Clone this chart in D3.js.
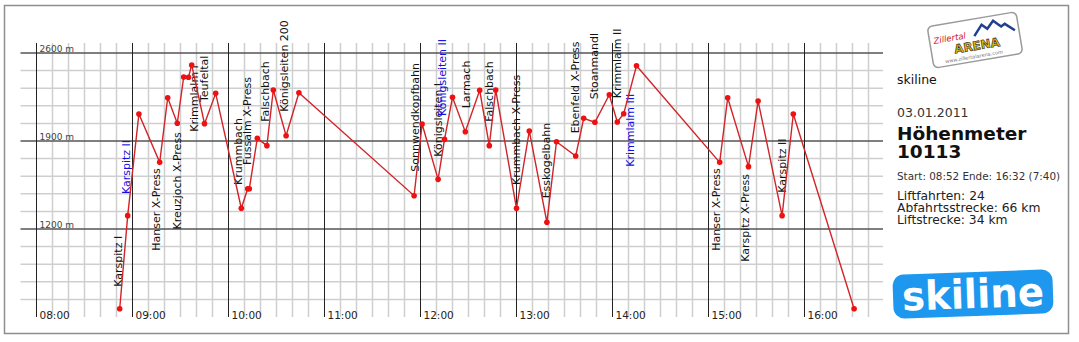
<!DOCTYPE html>
<html>
<head>
<meta charset="utf-8">
<title>skiline Höhenmeter 03.01.2011</title>
<style>
  body { margin: 0; background: #fff; }
  svg { display: block; font-family: "DejaVu Sans", Verdana, sans-serif; }
</style>
</head>
<body>
<svg width="1079" height="342"></svg>
<script src="https://d3js.org/d3.v7.min.js"></script>
<script>

// run points: time of day and altitude (m)
var runTimes = ["08:52","08:57","09:04","09:17","09:22","09:28","09:32","09:35","09:37","09:45",
                "09:52","10:08","10:12","10:13","10:18","10:24","10:28","10:36","10:44","11:56",
                "12:01","12:11","12:15","12:20","12:28","12:37","12:43","12:47","13:00","13:08",
                "13:19","13:25","13:37","13:42","13:49","13:58","14:03","14:07","14:15","15:07",
                "15:12","15:25","15:31","15:46","15:53","16:31"];
var runHeights = [566,1306,2115,1730,2244,2041,2409,2407,2505,2038,
                  2279,1365,1520,1520,1921,1863,2306,1942,2284,1465,
                  2035,1595,1913,2248,1974,2303,1863,2306,1365,1980,
                  1253,1894,1781,2080,2049,2268,2051,2117,2499,1730,
                  2244,1696,2218,1306,2115,566];

// lift labels
var liftNames = ["Karspitz I","Karspitz II","Hanser X-Press","Kreuzjoch X-Press","Krimmlalm I","Teufeltal",
                 "Krummbach","Fussalm X-Press","Falschbach","Königsleiten 200","Sonnwendkopfbahn","Königsleiten I",
                 "Königsleiten II","Larmach","Falschbach","Krummbach X-Press","Esskogelbahn","Ebenfeld X-Press",
                 "Stoanmandl","Krimmlalm II","Krimmlalm III","Hanser X-Press","Karspitz X-Press","Karspitz II"];
var liftTimes = ["08:51","08:56","09:15","09:28","09:39","09:45",
                 "10:06","10:12","10:23","10:35","11:57","12:11",
                 "12:14","12:29","12:43","13:00","13:19","13:37",
                 "13:49","14:03","14:11","15:05","15:23","15:46"];
var liftLabelHeights = [741,1478,1027,1197,1974,2210,
                        1550,1709,2053,2133,1656,1775,
                        2099,2160,2053,1550,1444,1961,
                        2232,2240,1695,1027,940,1489];
// lifts taken straight after another one (shown in blue)
var liftChained = [false,true,false,false,false,false,
                   false,false,false,false,false,false,
                   true,false,false,false,false,false,
                   false,false,true,false,false,false];

var hourTicks = ["08:00","09:00","10:00","11:00","12:00","13:00","14:00","15:00","16:00"];
var heightTicks = [1200, 1900, 2600];

var titleLines = ["Höhenmeter", "10113"];
var infoLines = ["Liftfahrten: 24", "Abfahrtsstrecke: 66 km", "Liftstrecke: 34 km"];

var parse = d3.timeParse("%H:%M");
var svg = d3.select("svg");

var x = d3.scaleTime()
    .domain([parse("07:50"), parse("16:50")])
    .range([20.5, 884.5]);
var y = d3.scaleLinear()
    .domain([500, 2600])
    .range([317, 53]);

// frame
svg.append("rect")
    .attr("x", 4.5).attr("y", 5.5)
    .attr("width", 1064).attr("height", 328)
    .attr("fill", "#fff")
    .attr("stroke", "#8e8e8e")
    .attr("stroke-width", 1.5);

var grid = svg.append("g");

var minorX = d3.timeMinute.every(10).range(parse("08:00"), parse("16:41"));
grid.selectAll(".vminor")
  .data(minorX.filter(function(d) { return d.getMinutes() != 0; }))
  .enter().append("line")
    .attr("x1", function(d) { return x(d); })
    .attr("x2", function(d) { return x(d); })
    .attr("y1", y(2680)).attr("y2", y(500))
    .attr("stroke", "#cfcfcf").attr("stroke-width", 1.5);

var minorY = d3.range(640, 2601, 140);
grid.selectAll(".hminor")
  .data(minorY.filter(function(d) { return heightTicks.indexOf(d) < 0; }))
  .enter().append("line")
    .attr("x1", x.range()[0]).attr("x2", x.range()[1] - 1.5)
    .attr("y1", function(d) { return y(d); })
    .attr("y2", function(d) { return y(d); })
    .attr("stroke", "#cfcfcf").attr("stroke-width", 1.5);

grid.selectAll(".hmajor")
  .data(heightTicks)
  .enter().append("line")
    .attr("x1", x.range()[0]).attr("x2", x.range()[1] - 1.5)
    .attr("y1", function(d) { return y(d); })
    .attr("y2", function(d) { return y(d); })
    .attr("stroke", "#555").attr("stroke-width", 1.5);

grid.selectAll(".vmajor")
  .data(hourTicks.map(parse))
  .enter().append("line")
    .attr("x1", function(d) { return x(d); })
    .attr("x2", function(d) { return x(d); })
    .attr("y1", y(2680)).attr("y2", y(500))
    .attr("stroke", "#222").attr("stroke-width", 1);

grid.selectAll(".hlabel")
  .data(heightTicks)
  .enter().append("text")
    .attr("x", x(parse("08:00")) + 3)
    .attr("y", function(d) { return y(d) - 1.5; })
    .attr("font-size", 9)
    .attr("fill", "#444")
    .text(function(d) { return d + " m"; });

grid.selectAll(".tlabel")
  .data(hourTicks)
  .enter().append("text")
    .attr("x", function(d) { return x(parse(d)) + 3; })
    .attr("y", 319)
    .attr("font-size", 10.5)
    .attr("fill", "#222")
    .text(function(d) { return d; });

// lift labels
svg.append("g").selectAll("text")
  .data(liftNames.map(function(n, i) {
      return { name: n, t: parse(liftTimes[i]), h: liftLabelHeights[i], chained: liftChained[i] };
    }))
  .enter().append("text")
    .attr("transform", function(d) { return "translate(" + (x(d.t) + 3.5) + "," + y(d.h) + ") rotate(-90)"; })
    .attr("font-size", 11)
    .attr("fill", function(d) { return d.chained ? "#1010e0" : "#111"; })
    .text(function(d) { return d.name; });

// altitude profile
var points = runTimes.map(function(t, i) { return { t: parse(t), h: runHeights[i] }; });

var line = d3.line()
    .x(function(d) { return x(d.t); })
    .y(function(d) { return y(d.h); });

svg.append("path")
    .datum(points)
    .attr("fill", "none")
    .attr("stroke", "#d22328")
    .attr("stroke-width", 1.4)
    .attr("d", line);

svg.append("g").selectAll("circle")
  .data(points)
  .enter().append("circle")
    .attr("cx", function(d) { return x(d.t); })
    .attr("cy", function(d) { return y(d.h); })
    .attr("r", 2.8)
    .attr("fill", "#ee1111");

// right panel
var panel = svg.append("g").attr("fill", "#111");

var card = svg.append("g").attr("transform", "translate(975,40) rotate(-9.6)");
card.append("rect")
    .attr("x", -45).attr("y", -21).attr("width", 90).attr("height", 42).attr("rx", 5)
    .attr("fill", "#fff").attr("stroke", "#9a9a9a").attr("stroke-width", 1.5);
card.append("path")
    .attr("d", "M0,-4 L9,-14 L14,-9 L21,-16 L28,-9 L32,-11 L41,-3")
    .attr("fill", "none").attr("stroke", "#1f3f8f").attr("stroke-width", 2.5);
card.append("text")
    .attr("x", -41).attr("y", -3)
    .attr("font-size", 8.5).attr("font-style", "italic")
    .attr("fill", "#d0142c")
    .text("Zillertal");
card.append("text")
    .attr("x", -22).attr("y", 10)
    .attr("font-size", 12).attr("font-weight", "bold")
    .attr("fill", "#e8b90c").attr("stroke", "#222").attr("stroke-width", 0.6)
    .text("ARENA");
card.append("text")
    .attr("x", -33).attr("y", 18)
    .attr("font-size", 5).attr("fill", "#777")
    .text("www.zillertalarena.com");

panel.append("text").attr("x", 897).attr("y", 84).attr("font-size", 12.5).text("skiline");
panel.append("text").attr("x", 897).attr("y", 117).attr("font-size", 12.5).attr("fill", "#333").text("03.01.2011");

// bold total, two lines in one text block
panel.append("text")
    .attr("font-size", 18.5).attr("font-weight", "bold")
  .selectAll("tspan")
  .data(titleLines)
  .enter().append("tspan")
    .attr("x", 897)
    .attr("y", function(d, i) { return 140 + i * 17.5; })
    .text(function(d) { return d; });

panel.append("text").attr("x", 897).attr("y", 180).attr("font-size", 10.4).attr("fill", "#333")
    .text("Start: 08:52 Ende: 16:32 (7:40)");

panel.append("text")
    .attr("font-size", 12.3)
    .attr("fill", "#222")
  .selectAll("tspan")
  .data(infoLines)
  .enter().append("tspan")
    .attr("x", 897)
    .attr("y", function(d, i) { return 199.5 + i * 12.2; })
    .text(function(d) { return d; });

var logo = svg.append("g").attr("transform", "translate(973,294) rotate(-2)");
logo.append("rect")
    .attr("x", -80).attr("y", -22).attr("width", 160).attr("height", 44).attr("rx", 11)
    .attr("fill", "#1e98ee");
logo.append("text")
    .attr("x", 0).attr("y", 14)
    .attr("text-anchor", "middle")
    .attr("font-size", 40).attr("font-weight", "bold")
    .attr("textLength", 142).attr("lengthAdjust", "spacingAndGlyphs")
    .attr("fill", "#fff")
    .text("skiline");

</script>
</body>
</html>
